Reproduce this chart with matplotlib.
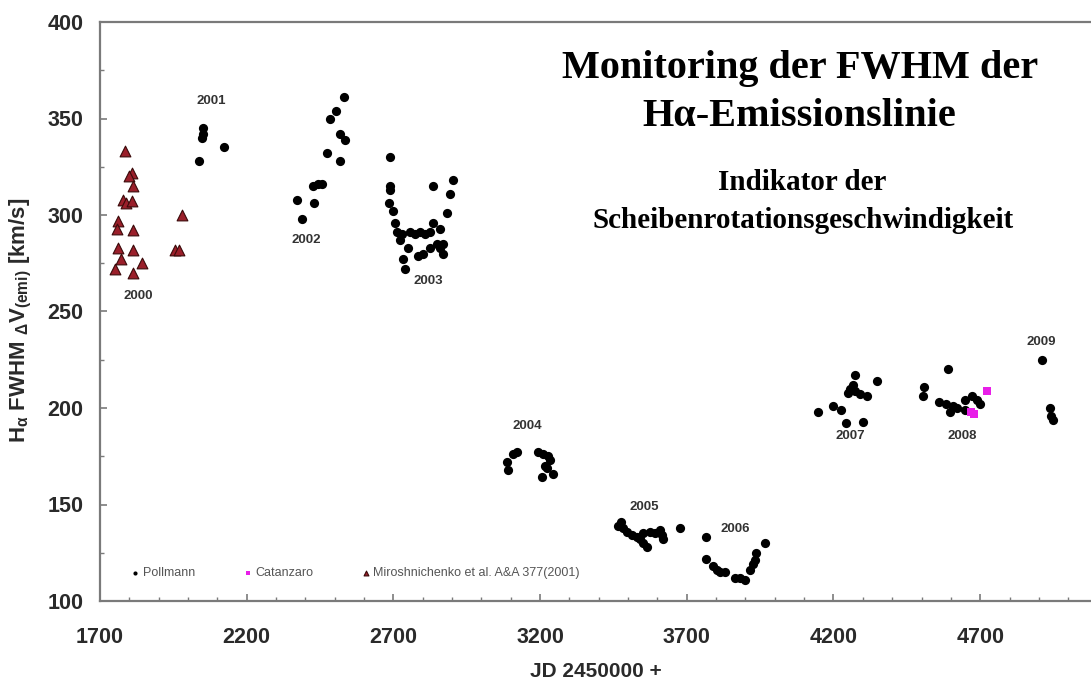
import numpy as np
import matplotlib
matplotlib.use("Agg")
import matplotlib.pyplot as plt
from matplotlib.ticker import MultipleLocator

# =============================================================================
# * Data
# =============================================================================

pollmann_jd = [2050, 2052, 2048, 2038, 2123,
               2370, 2387, 2429, 2427, 2442, 2455, 2472, 2484, 2504, 2532, 2518, 2535, 2518,
               2688, 2690, 2690, 2686, 2697, 2705, 2711, 2728, 2722, 2751, 2734, 2739, 2757,
               2775, 2791, 2808, 2825, 2836, 2836, 2859, 2881, 2893, 2904, 2785, 2802, 2825,
               2847, 2870, 2870, 2858,
               3086, 3092, 3108, 3120, 3194, 3211, 3228, 3234, 3217, 3222, 3205, 3245,
               3467, 3483, 3495, 3512, 3529, 3540, 3552, 3563, 3552, 3574, 3591, 3608, 3617,
               3620, 3677, 3475,
               3765, 3765, 3790, 3802, 3813, 3830, 3864, 3881, 3898, 3915, 3925, 3932, 3936,
               3966,
               4148, 4199, 4227, 4244, 4273, 4256, 4273, 4250, 4290, 4313, 4301, 4347, 4265,
               4508, 4506, 4591, 4560, 4585, 4608, 4597, 4648, 4671, 4688, 4699, 4648, 4620,
               4909, 4938, 4943, 4947]
pollmann_fwhm = [345, 342, 340, 328, 335,
                 308, 298, 306, 315, 316, 316, 332, 350, 354, 361, 342, 339, 328,
                 330, 315, 313, 306, 302, 296, 291, 290, 287, 283, 277, 272, 291,
                 290, 291, 290, 291, 315, 296, 293, 301, 311, 318, 279, 280, 283,
                 285, 285, 280, 283,
                 172, 168, 176, 177, 177, 176, 175, 173, 170, 169, 164, 166,
                 139, 138, 136, 134, 133, 132, 130, 128, 135, 136, 135, 137, 134,
                 132, 138, 141,
                 133, 122, 118, 116, 115, 115, 112, 112, 111, 116, 119, 121, 125,
                 130,
                 198, 201, 199, 192, 217, 210, 209, 208, 207, 206, 193, 214, 212,
                 211, 206, 220, 203, 202, 201, 198, 204, 206, 204, 202, 199, 200,
                 225, 200, 196, 194]

catanzaro_jd = [4668, 4680, 4722]
catanzaro_fwhm = [198, 197, 209]

miro_jd = [1785, 1808, 1800, 1812, 1777, 1790, 1808, 1762, 1758, 1814,
           1760, 1814, 1772, 1752, 1812, 1842, 1978, 1955, 1968]
miro_fwhm = [333, 322, 320, 315, 308, 306, 307, 297, 293, 292,
             283, 282, 277, 272, 270, 275, 300, 282, 282]

year_labels = ["2000", "2001", "2002", "2003", "2004", "2005", "2006", "2007", "2008", "2009"]
year_label_jd = [1830, 2078, 2402, 2818, 3155, 3554, 3864, 4259, 4638, 4907]
year_label_fwhm = [258, 359, 287, 266, 190.5, 148.5, 137.5, 185.5, 185.5, 234]

x_ticks = [1700, 2200, 2700, 3200, 3700, 4200, 4700]

# =============================================================================
# * Plot
# =============================================================================

plt.rcParams['font.family'] = ['Liberation Sans', 'DejaVu Sans']
plt.rcParams['mathtext.fontset'] = 'custom'
plt.rcParams['mathtext.rm'] = 'Liberation Sans:bold'
plt.rcParams['mathtext.it'] = 'Liberation Sans:bold'
plt.rcParams['mathtext.bf'] = 'Liberation Sans:bold'

fig = plt.figure(figsize=(10.91, 6.81), dpi=100)
ax = fig.add_axes([100 / 1091, 1 - 601 / 681, 1 - 100 / 1091, (601 - 22) / 681])

ax.scatter(pollmann_jd, pollmann_fwhm, s=44, c='black', marker='o', linewidths=0, label='Pollmann', zorder=3)
ax.scatter(catanzaro_jd, catanzaro_fwhm, s=40, c='#e81ee8', marker='s', linewidths=0, label='Catanzaro', zorder=3)
ax.scatter(miro_jd, miro_fwhm, s=60, c='#9a1f2a', marker='^', edgecolors='#3a0a0a', linewidths=0.8,
           label='Miroshnichenko et al. A&A 377(2001)', zorder=3)

for lab, x, y in zip(year_labels, year_label_jd, year_label_fwhm):
    ax.text(x, y, lab, fontsize=9.5, fontweight='bold', color='#333333', ha='center', va='center')

ax.set_xlim(1700, 1700 + (1091 - 100) * 500 / 146.7)
ax.set_ylim(100, 400)
ax.set_xticks(x_ticks)
ax.xaxis.set_minor_locator(MultipleLocator(100))
ax.yaxis.set_major_locator(MultipleLocator(50))
ax.yaxis.set_minor_locator(MultipleLocator(25))

for side in ['left', 'bottom', 'top']:
    ax.spines[side].set_color('#7a7a7a')
    ax.spines[side].set_linewidth(1.6)
ax.spines['right'].set_visible(False)
ax.tick_params(which='both', direction='in', color='#7a7a7a', labelsize=15.5, labelcolor='#2a2a2a')
ax.tick_params(which='major', length=5, width=1.2)
ax.tick_params(axis='y', which='major', pad=12)
ax.tick_params(axis='x', which='major', pad=19)
ax.tick_params(which='minor', length=3, width=1.0)
for lbl in ax.get_xticklabels() + ax.get_yticklabels():
    lbl.set_fontweight('bold')

ax.set_xlabel("JD 2450000 +", fontsize=15, fontweight='bold', color='#2a2a2a', labelpad=10)
ax.set_ylabel(r"H$_{α}$ FWHM $_{Δ}$V$_{(emi)}$ [km/s]", fontsize=16, fontweight='bold',
              color='#2a2a2a')
ax.yaxis.set_label_coords(-0.067, 0.485)

leg = ax.legend(loc='center left', bbox_to_anchor=(0.018, 0.048), ncol=3, frameon=False,
                fontsize=9, markerscale=0.45, handletextpad=0.1, columnspacing=3.7,
                handlelength=1.0)
for t in leg.get_texts():
    t.set_color('#555555')

ax.text(0.706, 0.878, "Monitoring der FWHM der\nHα-Emissionslinie", transform=ax.transAxes,
        fontsize=29, fontweight='bold', family='Liberation Serif', ha='center', va='center',
        linespacing=1.4)
ax.text(0.709, 0.69, "Indikator der\nScheibenrotationsgeschwindigkeit", transform=ax.transAxes,
        fontsize=21, fontweight='bold', family='Liberation Serif', ha='center', va='center',
        linespacing=1.5)

fig.savefig("out.png", dpi=100)
